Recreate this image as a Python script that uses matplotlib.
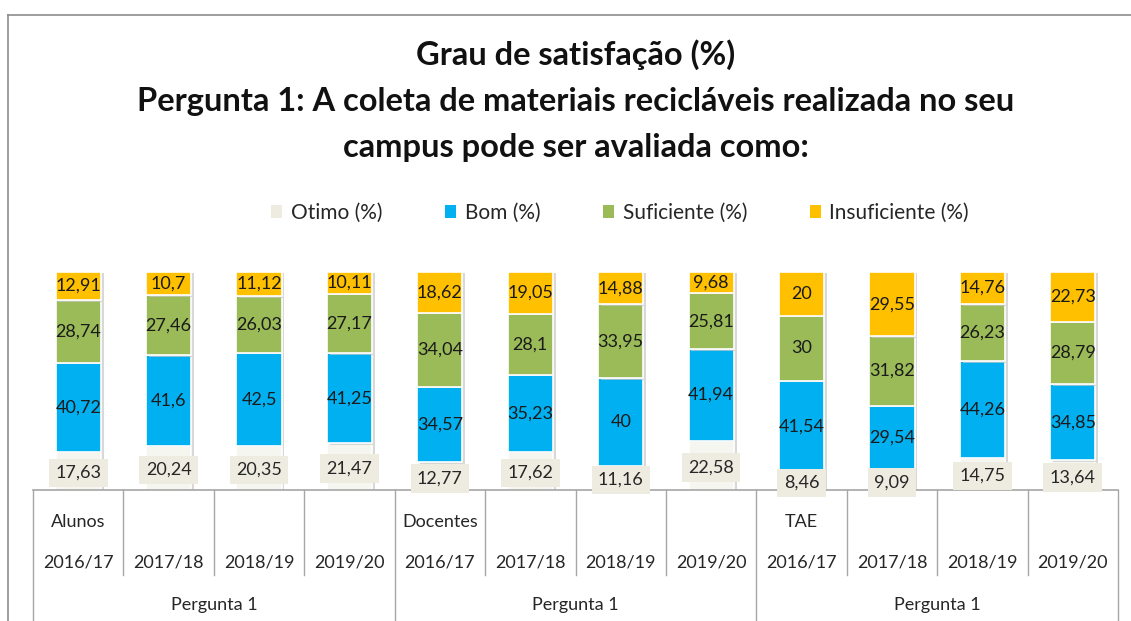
import numpy as np
import matplotlib.pyplot as plt
from matplotlib.patches import Rectangle
from matplotlib.lines import Line2D
import matplotlib.patheffects as pe

plt.rcParams['font.family'] = ['Lato', 'DejaVu Sans']

# ---------------------------------------------------------
# DATA
# ---------------------------------------------------------
groups = ['Alunos', 'Docentes', 'TAE']
years = ['2016/17', '2017/18', '2018/19', '2019/20']
group_title = 'Pergunta 1'

otimo = [17.63, 20.24, 20.35, 21.47, 12.77, 17.62, 11.16, 22.58, 8.46, 9.09, 14.75, 13.64]
bom = [40.72, 41.6, 42.5, 41.25, 34.57, 35.23, 40, 41.94, 41.54, 29.54, 44.26, 34.85]
suficiente = [28.74, 27.46, 26.03, 27.17, 34.04, 28.1, 33.95, 25.81, 30, 31.82, 26.23, 28.79]
insuficiente = [12.91, 10.7, 11.12, 10.11, 18.62, 19.05, 14.88, 9.68, 20, 29.55, 14.76, 22.73]

series_names = ['Otimo (%)', 'Bom (%)', 'Suficiente (%)', 'Insuficiente (%)']
series_colors = ['#F6F6F1', '#00B0F0', '#9BBB59', '#FFC000']
otimo_box = '#EEECE1'

# ---------------------------------------------------------
# FIGURE
# ---------------------------------------------------------
W, H = 1131, 621
fig = plt.figure(figsize=(W / 100, H / 100), dpi=100)
ax = fig.add_axes([33 / W, 1 - 490 / H, (1118 - 33) / W, (490 - 272) / H])

n = len(otimo)
x = np.arange(n)
shadow = [pe.SimplePatchShadow(offset=(2, -1), shadow_rgbFace='#C8C8C8', alpha=0.7), pe.Normal()]

bottom = np.zeros(n)
for vals, col in zip([otimo, bom, suficiente, insuficiente], series_colors):
    vals = np.array(vals)
    bars = ax.bar(x, vals, bottom=bottom, width=0.5, color=col,
                  edgecolor='white', linewidth=1.2, zorder=2)
    for b in bars:
        b.set_path_effects(shadow)
    for xi, v, b0 in zip(x, vals, bottom):
        txt = f'{v:g}'.replace('.', ',')
        if col == series_colors[0]:
            ax.text(xi, b0 + v / 2 - 1, txt, ha='center', va='center', fontsize=13,
                    color='#262626', zorder=4, clip_on=False,
                    bbox=dict(boxstyle='square,pad=0.35', fc=otimo_box, ec='none'))
        else:
            ax.text(xi, b0 + v / 2, txt, ha='center', va='center', fontsize=13,
                    color='#1A1A1A', zorder=4)
    bottom = bottom + vals

ax.set_xlim(-0.5, n - 0.5)
ax.set_ylim(0, 100)
ax.axis('off')

# ---------------------------------------------------------
# CATEGORY TABLE BELOW THE BARS
# ---------------------------------------------------------
trans = ax.get_xaxis_transform()
line_c = '#A6A6A6'
def yfrac(py):
    return (490 - py) / (490 - 272)

ax.plot([-0.5, n - 0.5], [0, 0], color=line_c, lw=1.2, transform=trans, clip_on=False, zorder=3)
for k in range(n + 1):
    xb = k - 0.5
    y_end = 621 if k % 4 == 0 else 575
    ax.plot([xb, xb], [0, yfrac(y_end)], color=line_c, lw=1.0, transform=trans, clip_on=False)

for k in range(n):
    ax.text(k, yfrac(562), years[k % 4], ha='center', va='center', fontsize=13,
            color='#262626', transform=trans)
for g, name in enumerate(groups):
    ax.text(g * 4, yfrac(522), name, ha='center', va='center', fontsize=13,
            color='#262626', transform=trans)
    ax.text(g * 4 + 1.5, yfrac(605), group_title, ha='center', va='center', fontsize=13,
            color='#262626', transform=trans)

# ---------------------------------------------------------
# TITLE, LEGEND, BORDER
# ---------------------------------------------------------
title_lines = ['Grau de satisfação (%)',
               'Pergunta 1: A coleta de materiais recicláveis realizada no seu',
               'campus pode ser avaliada como:']
for line, py in zip(title_lines, [55, 102, 148]):
    fig.text(576 / W, 1 - py / H, line, ha='center', va='center', fontsize=23.5,
             fontweight='bold', color='#111111')

handles = [Rectangle((0, 0), 1, 1, fc=c, ec='none') for c in series_colors]
handles[0] = Rectangle((0, 0), 1, 1, fc=otimo_box, ec='none')
fig.legend(handles, series_names, loc='center', bbox_to_anchor=(620 / W, 1 - 213 / H),
           ncol=4, frameon=False, fontsize=15, handlelength=0.55, handleheight=0.55,
           handletextpad=0.4, columnspacing=3.0, labelcolor='#262626')

fig.add_artist(Line2D([8 / W, 1], [1 - 15 / H, 1 - 15 / H], color='#8C8C8C', lw=1.2))
fig.add_artist(Line2D([8 / W, 8 / W], [0, 1 - 15 / H], color='#8C8C8C', lw=1.2))

fig.savefig('out.png', dpi=100)
